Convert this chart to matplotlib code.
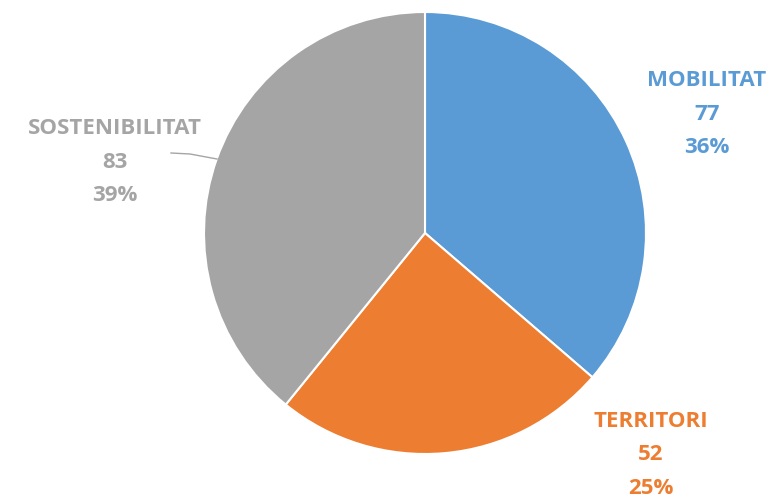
import matplotlib
matplotlib.use("Agg")
import matplotlib.pyplot as plt

categories = ["MOBILITAT", "TERRITORI", "SOSTENIBILITAT"]
values = [77, 52, 83]
colors = ["#5B9BD5", "#ED7D31", "#A5A5A5"]

W, H = 782, 499
fig = plt.figure(figsize=(W / 100, H / 100), dpi=100)
ax = fig.add_axes([0, 0, 1, 1])

cx, cy, r = 425, H - 233, 221
ax.pie(values, colors=colors, startangle=90, counterclock=False,
       center=(cx, cy), radius=r, frame=True,
       wedgeprops=dict(edgecolor="white", linewidth=1.5))
ax.set_xlim(0, W)
ax.set_ylim(0, H)
ax.set_aspect("equal")
ax.axis("off")

total = sum(values)
label_pos = [(707, H - 114), (651, H - 455), (115, H - 162)]
for cat, v, col, (x, y) in zip(categories, values, colors, label_pos):
    pct = round(100 * v / total)
    ax.text(x, y, f"{cat}\n{v}\n{pct}%", ha="center", va="center",
            color=col, fontsize=16, fontweight="bold", family="Open Sans",
            linespacing=1.78)

ax.plot([171, 190, 217], [H - 153, H - 154, H - 159], color="#A5A5A5", lw=1)

fig.savefig("out.png", dpi=100)
